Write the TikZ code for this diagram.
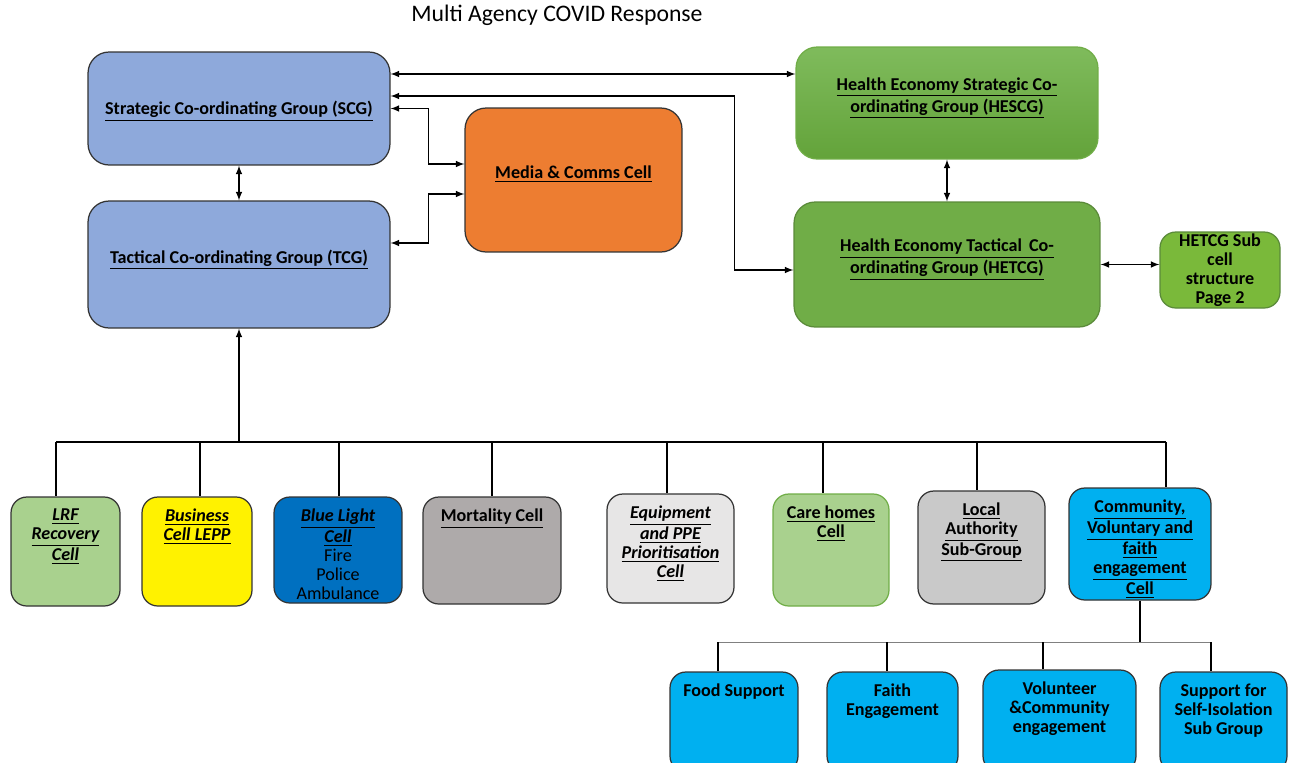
\documentclass[tikz,border=0pt]{standalone}
\usepackage{fontspec}
\setmainfont{Carlito}
\usetikzlibrary{arrows}

\definecolor{scgblue}{HTML}{8EA9DB}
\definecolor{mediaorange}{HTML}{ED7D31}
\definecolor{hegreen}{HTML}{70AD47}
\definecolor{hegreentop}{HTML}{7FBB5C}
\definecolor{hegreenbot}{HTML}{63A33A}
\definecolor{subgreen}{HTML}{7AB93A}
\definecolor{lightgreen}{HTML}{A9D18E}
\definecolor{lightblue}{HTML}{00B0F0}
\definecolor{darkblue}{HTML}{0070C0}
\definecolor{mortgrey}{HTML}{AEAAAA}
\definecolor{equipgrey}{HTML}{E7E6E6}
\definecolor{lagrey}{HTML}{C9C9C9}

\newcommand\uln[1]{\underline{#1}}
\newcommand\boxfont{\fontsize{10.3}{10.8}\selectfont\bfseries}

\tikzset{
	box/.style={draw=black!80, line width=0.7pt, rounded corners=12pt, inner sep=0pt},
	cell/.style={box, rounded corners=9pt},
	celltext/.style={anchor=north, align=center, font=\boxfont, inner sep=2pt, yshift=-5pt},
	midtext/.style={anchor=center, align=center, font=\boxfont, inner sep=0pt},
	link/.style={latex-latex, line width=0.7pt},
}

\begin{document}
\begin{tikzpicture}[x=0.02cm,y=-0.02cm]
				\useasboundingbox (0,0) rectangle (1295,762);
				\clip (0,0) rectangle (1295,762);
				\node[font=\fontsize{13.5}{15}\selectfont] (title) at (557,15) {Multi Agency COVID Response};
				
				%% strategic / tactical groups
				\node[box, fill=scgblue, minimum width=6.04cm, minimum height=2.26cm,
				label={[midtext,yshift=-1.7pt]center:\uln{Strategic Co-ordinating Group (SCG)}}] (scg) at (239,108.5) {};
				\node[box, fill=scgblue, minimum width=6.04cm, minimum height=2.54cm,
				label={[midtext,yshift=2.8pt]center:\uln{Tactical Co-ordinating Group (TCG)}}] (tcg) at (239,264.5) {};
				\node[box, fill=mediaorange, minimum width=4.34cm, minimum height=2.88cm,
				label={[midtext,yshift=3.3pt]center:\uln{Media \& Comms Cell}}] (media) at (573.5,180) {};
				\node[box, draw=hegreen, top color=hegreentop, bottom color=hegreenbot, minimum width=6.04cm, minimum height=2.24cm,
				label={[midtext,yshift=2.8pt]center:\uln{Health Economy Strategic Co-}\\\uln{ordinating Group (HESCG)}}] (hescg) at (947,103) {};
				\node[box, draw=hegreen!80!black, fill=hegreen, minimum width=6.12cm, minimum height=2.5cm,
				label={[midtext,yshift=2.8pt]center:\uln{Health Economy Tactical\, Co-}\\\uln{ordinating Group (HETCG)}}] (hetcg) at (947,264.5) {};
				\node[cell, draw=hegreen!80!black, fill=subgreen, minimum width=2.4cm, minimum height=1.52cm,
				label={[midtext]center:HETCG Sub\\cell\\structure\\Page 2}] (hetsub) at (1220,270) {};
				
				\coordinate (s1) at ([yshift=0.69cm]scg.east);
				\draw[link] (s1) -- (s1 -| hescg.west);
				\draw[link] ([yshift=0.25cm]scg.east) -- ++(344,0) |- ([yshift=-0.11cm]hetcg.west);
				\draw[link] (scg.east) -- ++(38,0) |- ([yshift=0.32cm]media.west);
				\draw[link] ([yshift=0.43cm]tcg.east) -- ++(38,0) |- ([yshift=-0.28cm]media.west);
				\draw[link] (scg.south) -- (tcg.north);
				\draw[link] (hescg.south) -- (hetcg.north);
				\draw[link] (hetcg.east) -- (hetcg.east -| hetsub.west);
				
				%% cells
				\node[cell, fill=lightgreen, minimum width=2.18cm, minimum height=2.18cm,
				label={[celltext]north:\itshape\uln{LRF}\\\itshape\uln{Recovery}\\\itshape\uln{Cell}}] (lrf) at (65.5,551.5) {};
				\node[cell, fill=yellow, minimum width=2.2cm, minimum height=2.18cm,
				label={[celltext]north:\itshape\uln{Business}\\\itshape\uln{Cell LEPP}}] (biz) at (197,551.5) {};
				\node[cell, fill=darkblue, minimum width=2.56cm, minimum height=2.12cm,
				label={[celltext]north:\itshape\uln{Blue Light}\\\itshape\uln{Cell}\\\mdseries Fire\\\mdseries Police\\\mdseries Ambulance}] (blue) at (338,550) {};
				\node[cell, fill=mortgrey, minimum width=2.76cm, minimum height=2.14cm,
				label={[celltext]north:\uln{Mortality Cell}}] (mort) at (492,550.5) {};
				\node[cell, fill=equipgrey, minimum width=2.54cm, minimum height=2.18cm,
				label={[celltext]north:\itshape\uln{Equipment}\\\itshape\uln{and PPE}\\\itshape\uln{Prioritisation}\\\itshape\uln{Cell}}] (equip) at (670.5,548.5) {};
				\node[cell, draw=hegreen, fill=lightgreen, minimum width=2.32cm, minimum height=2.24cm,
				label={[celltext]north:\uln{Care homes}\\\uln{Cell}}] (care) at (831,550) {};
				\node[cell, fill=lagrey, minimum width=2.54cm, minimum height=2.26cm,
				label={[celltext]north:\uln{Local}\\\uln{Authority}\\\uln{Sub-Group}}] (local) at (981.5,547.5) {};
				\node[cell, fill=lightblue, minimum width=2.84cm, minimum height=2.24cm,
				label={[celltext]north:\uln{Community,}\\\uln{Voluntary and}\\\uln{faith}\\\uln{engagement}\\\uln{Cell}}] (comm) at (1140,544) {};
				
				\coordinate (bus) at (239,442);
				\draw[-latex, line width=0.7pt] (bus) -- (tcg.south);
				\draw[line width=0.7pt] (56,442) -- (1166,442);
				\foreach \x/\n in {56/lrf,200/biz,339/blue,492/mort,667/equip,823/care,977/local,1166/comm}{
					\draw[line width=0.7pt] (\x,442) -- (\x,442 |- \n.north);
				}
				
				%% community sub groups
				\node[cell, fill=lightblue, minimum width=2.56cm, minimum height=2cm,
				label={[celltext]north:Food Support}] (food) at (734,722) {};
				\node[cell, fill=lightblue, minimum width=2.62cm, minimum height=2cm,
				label={[celltext]north:Faith\\Engagement}] (faith) at (892.5,722) {};
				\node[cell, fill=lightblue, minimum width=3.06cm, minimum height=2.04cm,
				label={[celltext]north:Volunteer\\\&Community\\engagement}] (vol) at (1059.5,721) {};
				\node[cell, fill=lightblue, minimum width=2.54cm, minimum height=2cm,
				label={[celltext]north:Support for\\Self-Isolation\\Sub Group}] (selfiso) at (1223.5,722) {};
				
				\draw[line width=0.7pt] (comm.south) -- ++(0,42) coordinate (subbus);
				\draw[black!50] (718,642) -- (1211,642);
				\foreach \x/\n in {718/food,887/faith,1043/vol,1211/selfiso}{
					\draw[line width=0.7pt] (\x,642) -- (\x,642 |- \n.north);
				}
\end{tikzpicture}
\end{document}
